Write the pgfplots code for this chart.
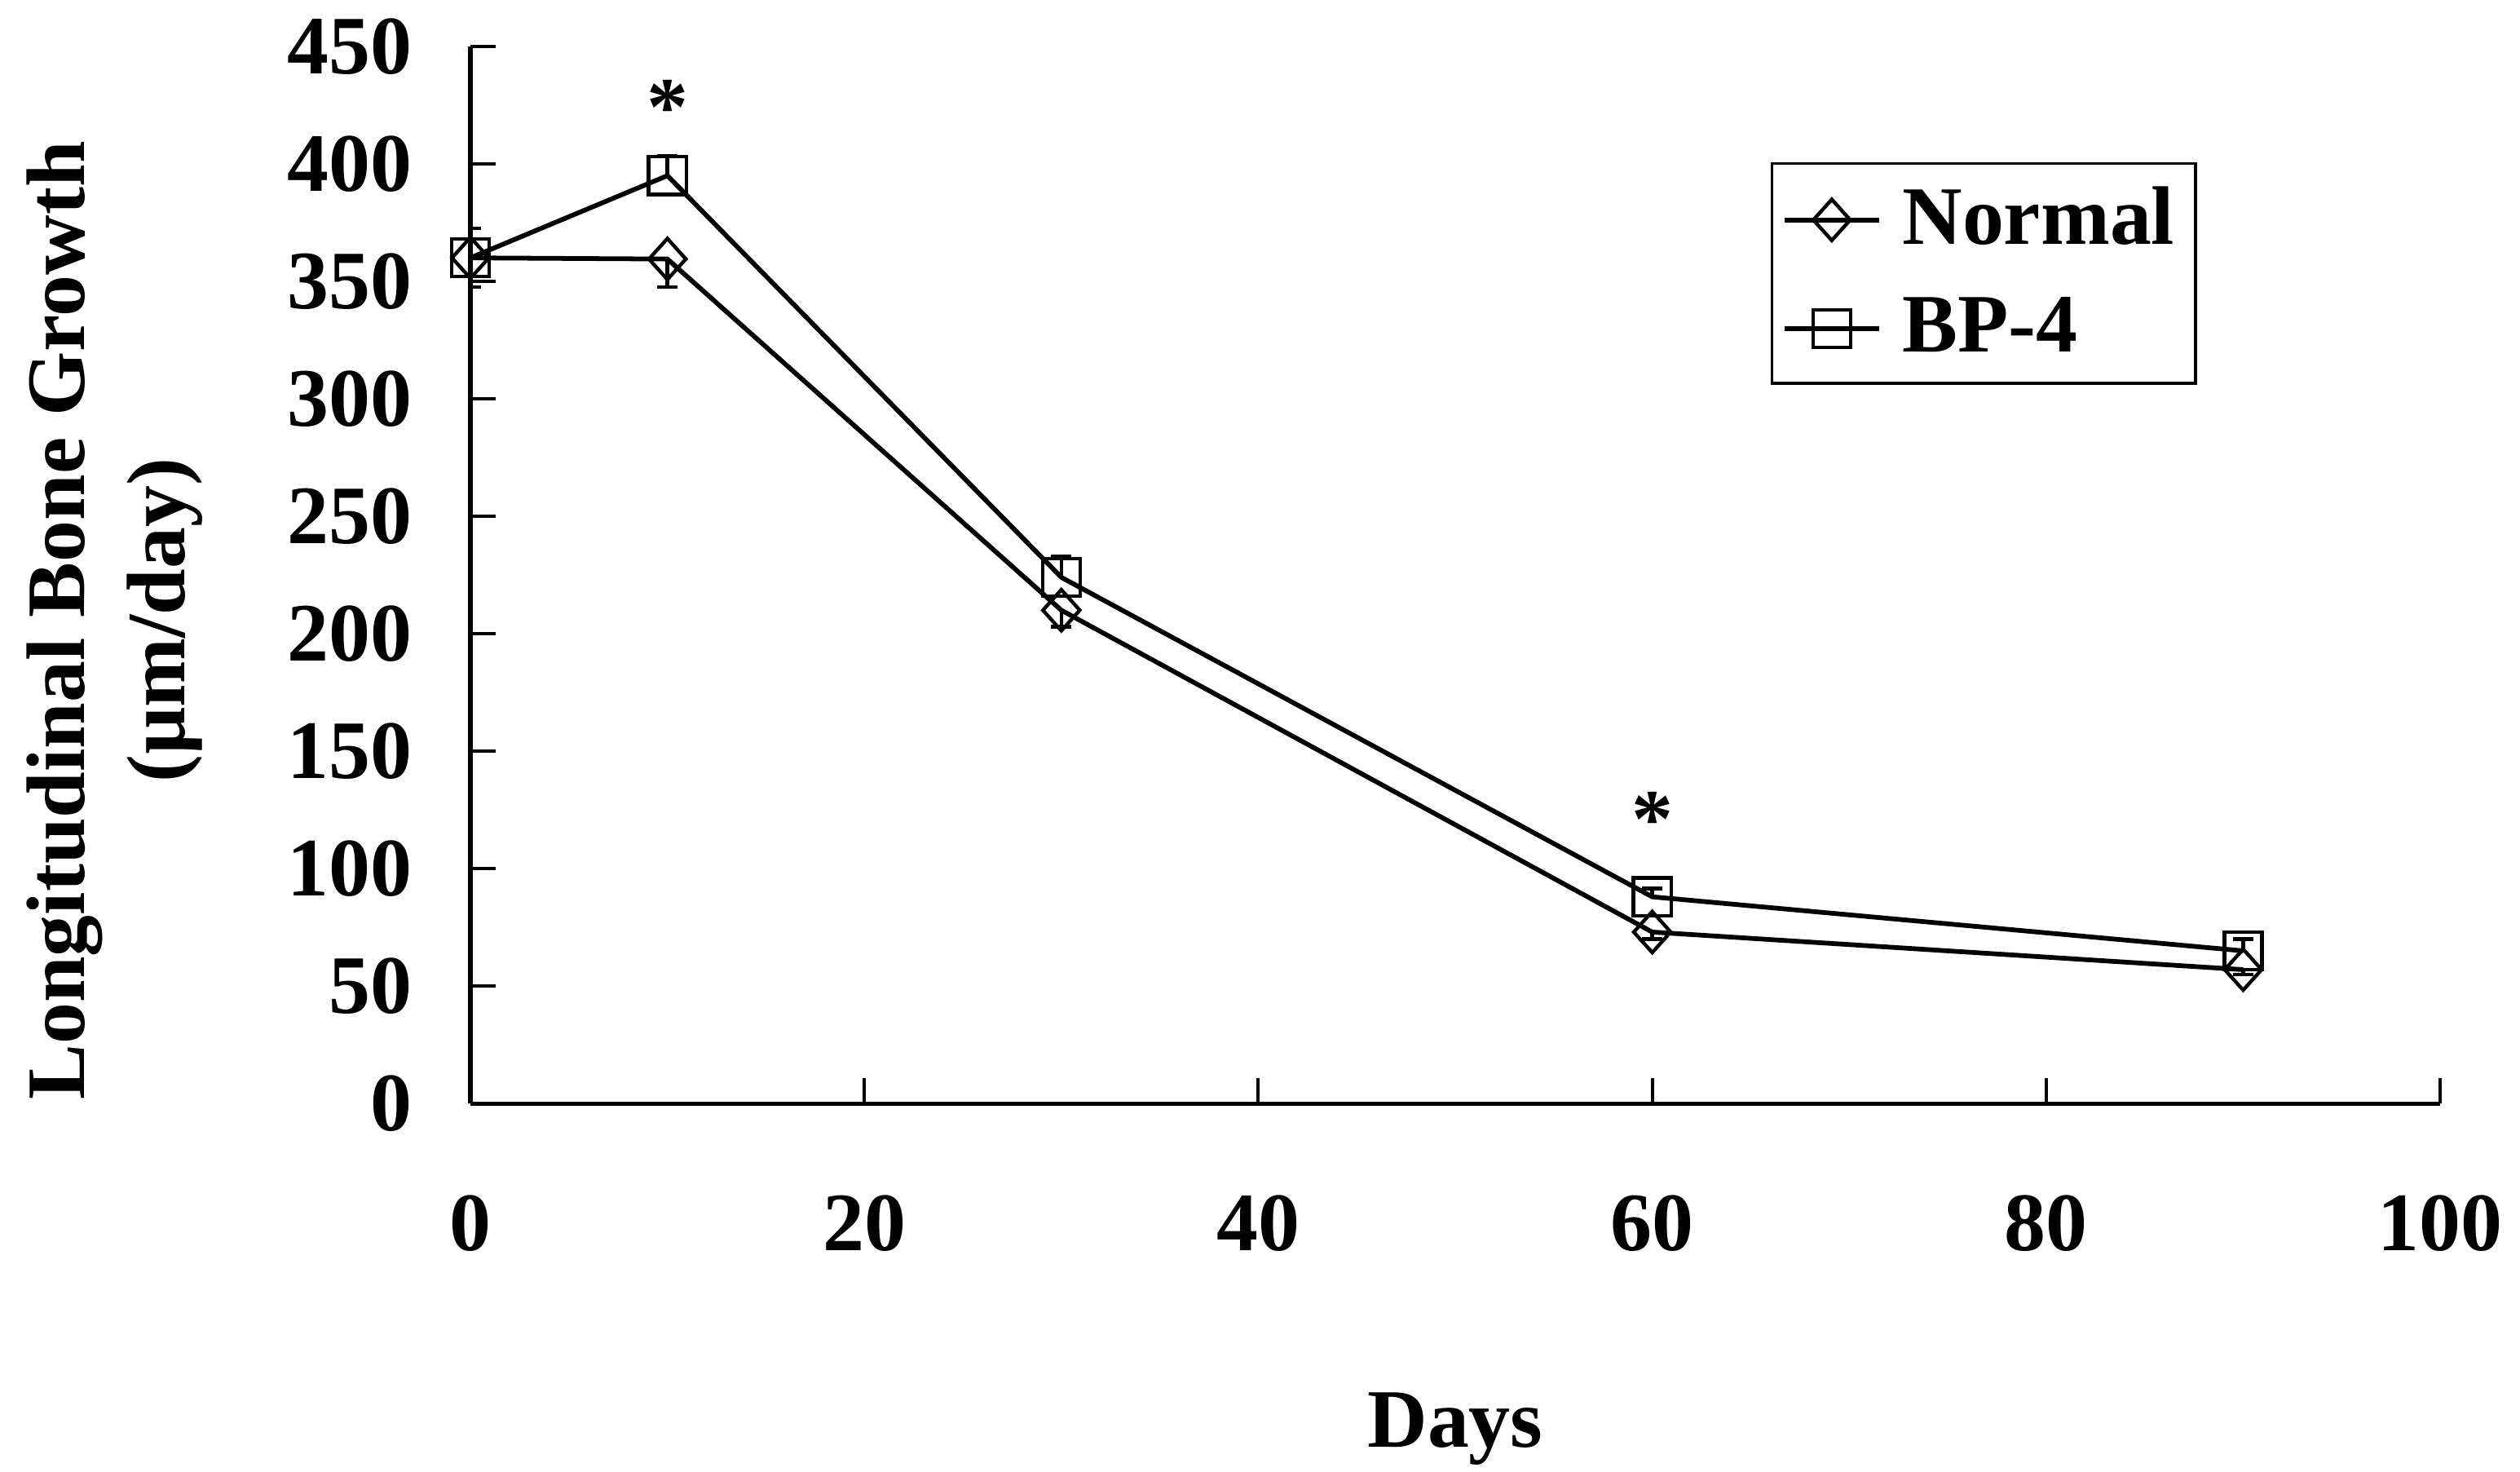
\documentclass[border=0pt]{standalone}
\usepackage{fontspec}
\setmainfont{Liberation Serif}
\usepackage{pgfplots}
\pgfplotsset{compat=1.18}

\newcommand{\labelfont}{\fontsize{15}{18}\selectfont\bfseries}

% growth rate per group: day, mean, error
\pgfplotstableread{
x    y     e
0    360   12.4
10   359.5 12
30   210   7
60   73    3
90   57    2
}\normaldata
\pgfplotstableread{
x    y     e
0    360   12.6
10   395   8.5
30   224   9
60   88    3.5
90   65    5
}\bpdata

\begin{document}
\begin{tikzpicture}
\begin{axis}[
  scale only axis,
  width=355.8pt, height=190.9pt,
  xmin=0, xmax=100, ymin=0, ymax=450,
  xtick={0,20,...,100}, ytick={0,50,...,450},
  axis x line*=bottom, axis y line*=left,
  axis line style={line width=0.75pt},
  tick align=inside,
  major tick length=4.6pt,
  every tick/.style={black, line width=0.6pt},
  /pgf/number format/assume math mode=true,
  tick label style={font=\labelfont},
  yticklabel style={xshift=-7pt},
  xticklabel style={yshift=-13pt},
  xlabel={Days},
  xlabel style={at={(axis description cs:0.5,0)}, anchor=base, yshift=-62pt, font=\labelfont},
  ylabel={Longitudinal Bone Growth\\(µm/day)},
  ylabel style={at={(axis description cs:-0.1806,0.457)}, anchor=center, align=center, font=\labelfont},
  legend style={at={(0.6602,0.8904)}, anchor=north west, draw=black, line width=0.5pt,
    font=\labelfont, inner xsep=1.8pt, inner ysep=2.2pt, row sep=4pt, column sep=1.8pt},
  legend cell align=left,
]
\addplot[black, line width=0.85pt, mark=diamond, mark size=3.7pt,
  mark options={solid, line width=0.65pt, xscale=1.2},
  error bars/.cd, y dir=minus, y explicit,
  error mark options={rotate=90, mark size=1.85pt, line width=0.65pt},
  error bar style={line width=0.65pt}]
  table[x=x, y=y, y error=e] {\normaldata};
\addlegendentry{Normal}
\addplot[black, line width=0.85pt, mark=square, mark size=3.4pt,
  mark options={solid, line width=0.65pt},
  error bars/.cd, y dir=plus, y explicit,
  error mark options={rotate=90, mark size=1.85pt, line width=0.65pt},
  error bar style={line width=0.65pt}]
  table[x=x, y=y, y error=e] {\bpdata};
\addlegendentry{BP-4}
% significance markers
\node[font=\labelfont, anchor=center] at (axis cs:10,424) {*};
\node[font=\labelfont, anchor=center] at (axis cs:60,121) {*};
\end{axis}
\pgfresetboundingbox
\path[use as bounding box]
  ([shift={(-84.98pt,-66.42pt)}]current axis.south west)
  rectangle ([shift={(14.43pt,8.39pt)}]current axis.north east);
\end{tikzpicture}
\end{document}
